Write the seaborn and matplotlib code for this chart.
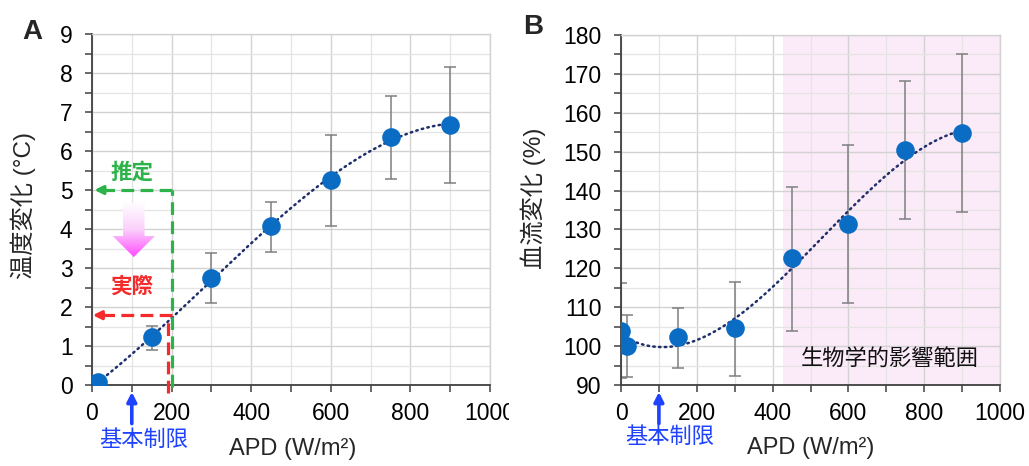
import numpy as np
import matplotlib
matplotlib.use("Agg")
import matplotlib.pyplot as plt
import seaborn as sns
import pandas as pd
from matplotlib.patches import Polygon
from matplotlib.transforms import Bbox, TransformedBbox
from matplotlib.ticker import MultipleLocator
from matplotlib.colors import LinearSegmentedColormap

# Panel A: temperature rise vs. absorbed power density
apd_a = [15, 150, 300, 450, 600, 750, 900]
temp_mean = [0.07, 1.22, 2.75, 4.07, 5.25, 6.37, 6.67]
temp_upper = [0.12, 1.52, 3.38, 4.68, 6.42, 7.42, 8.15]
temp_lower = [0.02, 0.90, 2.10, 3.42, 4.07, 5.27, 5.17]

# Panel B: blood-flow change vs. absorbed power density
apd_b = [0, 15, 150, 300, 450, 600, 750, 900]
flow_mean = [104.0, 100.0, 102.3, 104.6, 122.6, 131.4, 150.4, 154.7]
flow_upper = [116.3, 108.0, 109.9, 116.4, 141.0, 151.8, 168.2, 175.1]
flow_lower = [91.8, 92.0, 94.5, 92.4, 103.9, 111.0, 132.7, 134.5]

x_ticks = [0, 200, 400, 600, 800, 1000]
basic_limit = 100          # basic restriction (W/m2)
estimated_rise = 5.0       # estimated temperature rise at 200 W/m2
actual_rise = 1.79         # actual temperature rise at 200 W/m2
bio_effect_start = 427     # start of the biological-effect range

sns.set_style("white")
plt.rcParams["font.family"] = ["Liberation Sans", "Noto Sans CJK JP", "DejaVu Sans"]

POINT = "#0b6cc4"
ERR = "#7f7f7f"
TREND = "#1f2f6b"
AX = "#404040"
GREEN = "#2db34a"
RED = "#f52a2a"
BLUE = "#1f42ff"

fig = plt.figure(figsize=(10.29, 4.66), dpi=100)
ax_a = fig.add_axes([92 / 1029, 1 - 385 / 466, 398 / 1029, 351 / 466])
ax_b = fig.add_axes([621 / 1029, 1 - 385 / 466, 379 / 1029, 350 / 466])


def style_axes(ax, ymin, ymax, ymaj, ymin_step):
    ax.set_xlim(0, 1000)
    ax.set_ylim(ymin, ymax)
    ax.set_xticks(x_ticks)
    ax.xaxis.set_minor_locator(MultipleLocator(100))
    ax.yaxis.set_major_locator(MultipleLocator(ymaj))
    ax.yaxis.set_minor_locator(MultipleLocator(ymin_step))
    ax.set_axisbelow(True)
    ax.grid(which="major", color="#d2d2d2", lw=1.0)
    ax.grid(which="minor", color="#e4e4e4", lw=0.9)
    for s in ("left", "bottom"):
        ax.spines[s].set_color(AX)
        ax.spines[s].set_linewidth(1.3)
    for s in ("top", "right"):
        ax.spines[s].set_color("#d2d2d2")
        ax.spines[s].set_linewidth(1.0)
    ax.tick_params(which="both", direction="out", length=5, width=1.1,
                   color=AX, bottom=True, left=True)
    ax.tick_params(which="major", labelsize=16.5, labelcolor="black")
    ax.tick_params(axis="x", which="major", pad=7)
    ax.tick_params(axis="y", which="major", pad=9)


def draw_series(ax, x, mean, upper, lower):
    mean = np.asarray(mean)
    yerr = [mean - np.asarray(lower), np.asarray(upper) - mean]
    ax.errorbar(x, mean, yerr=yerr, fmt="none", ecolor=ERR, elinewidth=1.1,
                capsize=4, capthick=1.1, zorder=2)
    coef = np.polyfit(x, mean, 3)
    xs = np.linspace(min(x), max(x), 300)
    trend = pd.DataFrame({"x": xs, "y": np.polyval(coef, xs)})
    sns.lineplot(data=trend, x="x", y="y", ax=ax, color=TREND, lw=1.8,
                 linestyle=(0, (0.6, 1.7)), dash_capstyle="round", zorder=3,
                 sort=False)
    pts = pd.DataFrame({"x": x, "y": mean})
    sns.scatterplot(data=pts, x="x", y="y", ax=ax, s=180, color=POINT,
                    edgecolor=POINT, linewidth=0, zorder=4)
    ax.set_xlabel("")
    ax.set_ylabel("")


def basic_limit_marker(ax, text_y):
    ax.annotate("", xy=(basic_limit, -0.02), xycoords=("data", "axes fraction"),
                xytext=(basic_limit, -0.11), textcoords=("data", "axes fraction"),
                arrowprops=dict(arrowstyle="-|>,head_length=0.55,head_width=0.28",
                                color=BLUE, lw=2.6, shrinkA=0, shrinkB=0),
                annotation_clip=False)
    ax.text(129, text_y, "基本制限", transform=ax.get_xaxis_transform(),
            ha="center", va="center", fontsize=16, color=BLUE, clip_on=False)


# ---- Panel A ----
style_axes(ax_a, 0, 9, 1, 0.5)
draw_series(ax_a, apd_a, temp_mean, temp_upper, temp_lower)
ax_a.set_xlim(0, 1000)
ax_a.set_ylim(0, 9)

# estimated vs. actual guide lines at 200 W/m2
dash = (0, (4, 2))
ax_a.plot([200, 200], [-0.05, estimated_rise], color=GREEN, lw=2.3,
          linestyle=dash, clip_on=False, zorder=5)
ax_a.plot([200, 30], [estimated_rise, estimated_rise], color=GREEN, lw=2.3,
          linestyle=dash, zorder=5)
ax_a.annotate("", xy=(6, estimated_rise), xytext=(34, estimated_rise),
              arrowprops=dict(arrowstyle="-|>,head_length=0.5,head_width=0.25",
                              color=GREEN, lw=2.3, shrinkA=0, shrinkB=0),
              zorder=5)
ax_a.plot([192, 192], [-0.2, actual_rise], color=RED, lw=2.3,
          linestyle=dash, clip_on=False, zorder=5)
ax_a.plot([200, 30], [actual_rise, actual_rise], color=RED, lw=2.3,
          linestyle=dash, zorder=5)
ax_a.annotate("", xy=(2, actual_rise), xytext=(32, actual_rise),
              arrowprops=dict(arrowstyle="-|>,head_length=0.5,head_width=0.25",
                              color=RED, lw=2.3, shrinkA=0, shrinkB=0),
              zorder=5)
ax_a.text(100, 5.42, "推定", ha="center", va="center", fontsize=15.5,
          color=GREEN, fontweight="bold")
ax_a.text(100, 2.52, "実際", ha="center", va="center", fontsize=15.5,
          color=RED, fontweight="bold")

# gradient down-arrow between the two estimates
arrow_xy = [(78, 4.67), (132, 4.67), (132, 3.82), (158, 3.82), (105, 3.28),
            (52, 3.82), (78, 3.82)]
arrow_patch = Polygon(arrow_xy, closed=True, facecolor="none", edgecolor="none")
ax_a.add_patch(arrow_patch)
grad_cmap = LinearSegmentedColormap.from_list("fade", ["#ffffff", "#fbd0fb", "#ff4cff"])
grad = np.linspace(0, 1, 256).reshape(-1, 1)
img = ax_a.imshow(grad, cmap=grad_cmap, extent=[52, 158, 3.28, 4.67],
                  origin="upper", aspect="auto", zorder=4)
img.set_clip_path(arrow_patch)
ax_a.set_xlim(0, 1000)
ax_a.set_ylim(0, 9)

basic_limit_marker(ax_a, -0.157)
ax_a.set_ylabel("温度変化 (°C)", fontsize=17.5)
ax_a.yaxis.set_label_coords(-0.141, 0.51)
ax_a.set_xlabel("APD (W/m²)", fontsize=17)
ax_a.xaxis.set_label_coords(0.503, -0.152)

# last tick label of panel A runs into the gap between panels
clip = TransformedBbox(Bbox([[0, 0], [509 / 1029, 1]]), fig.transFigure)
for lab in ax_a.get_xticklabels():
    lab.set_clip_box(clip)
    lab.set_clip_on(True)

# ---- Panel B ----
style_axes(ax_b, 90, 180, 10, 5)
ax_b.axvspan(bio_effect_start, 1000, color="#fbeaf8", zorder=0.2, lw=0)
draw_series(ax_b, apd_b, flow_mean, flow_upper, flow_lower)
ax_b.set_xlim(0, 1000)
ax_b.set_ylim(90, 180)
ax_b.text(710, 96.4, "生物学的影響範囲", ha="center", va="center",
          fontsize=16, color="#111111")
basic_limit_marker(ax_b, -0.149)
ax_b.set_ylabel("血流変化 (%)", fontsize=17.5)
ax_b.yaxis.set_label_coords(-0.198, 0.534)
ax_b.set_xlabel("APD (W/m²)", fontsize=17)
ax_b.xaxis.set_label_coords(0.5, -0.148)

fig.text(32 / 1029, 1 - 32 / 466, "A", fontsize=20, fontweight="bold",
         ha="center", va="center")
fig.text(533 / 1029, 1 - 27 / 466, "B", fontsize=20, fontweight="bold",
         ha="center", va="center")

fig.savefig("out.png", dpi=100)
